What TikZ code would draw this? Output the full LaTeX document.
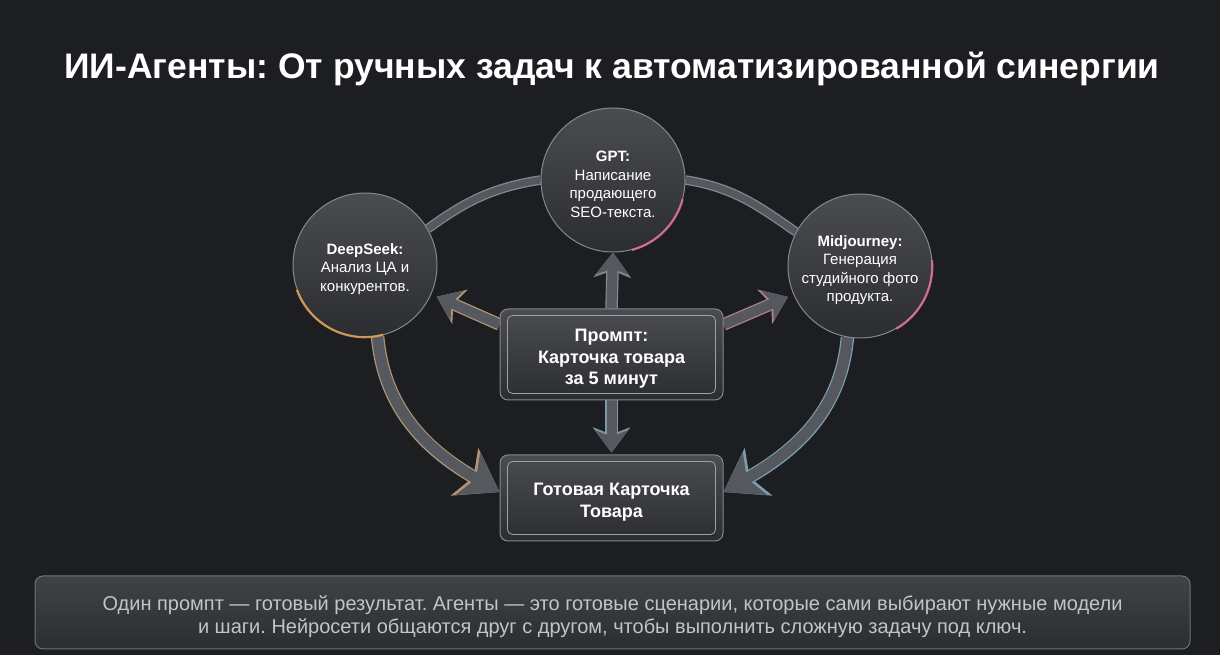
\documentclass[tikz,border=0pt]{standalone}
\usepackage{fontspec}
\setmainfont{Liberation Sans}
\usetikzlibrary{arrows.meta}
\definecolor{bg}{HTML}{1C1E22}
\definecolor{glasstop}{HTML}{4A4C51}
\definecolor{glassbot}{HTML}{2B2D31}
\definecolor{rim}{HTML}{85888E}
\definecolor{pipe}{HTML}{55585E}
\definecolor{notetext}{HTML}{C2C4C8}
\definecolor{glowor}{HTML}{E3A257}
\definecolor{glowpk}{HTML}{E27490}
\definecolor{glowbl}{HTML}{72B9D2}
\pgfdeclarelayer{back}
\pgfdeclarelayer{links}
\pgfsetlayers{back,links,main}
\frenchspacing
% extra room above the first line, pushes the text block down a little
\newcommand{\toplift}[1]{\rule{0pt}{#1}}

\begin{document}
\begin{tikzpicture}[x=1pt, y=1pt,
                agent/.style={circle, minimum size=144pt, inner sep=0pt, draw=rim, line width=1pt,
                              top color=glasstop, bottom color=glassbot, text=white, align=center,
                              font=\fontsize{15}{18.5}\selectfont},
                panel/.style={rectangle, rounded corners=8pt, minimum width=223pt, draw=rim, line width=1pt,
                              top color=glasstop, bottom color=glassbot, text=white, align=center,
                              font=\bfseries\fontsize{18}{21.5}\selectfont},
                frame/.style={draw=rim!80!white, line width=0.8pt, rounded corners=5pt},
                ring/.style={line width=7pt, draw=pipe, preaction={draw=rim, line width=9.5pt}},
                fat/.style={line width=10pt, draw=pipe, -{Stealth[length=22pt, width=32pt, inset=6pt]},
                            preaction={draw=#1, line width=12.5pt, -{Stealth[length=25pt, width=37pt, inset=7pt]}}},
                fat/.default=rim,
                bigfat/.style={line width=11pt, draw=pipe, -{Stealth[length=36pt, width=48pt, inset=9pt]},
                               preaction={draw=#1, line width=13.5pt, -{Stealth[length=40pt, width=54pt, inset=10pt]}}},
                bigfat/.default=rim,
                glow/.style={line width=2.2pt, opacity=0.85}
            ]
            \begin{pgfonlayer}{back}
            \fill[bg] (0,0) rectangle (1220,655);
            \end{pgfonlayer}

            \node[font=\bfseries\fontsize{35.5}{40}\selectfont, text=white] (title) at (612,586)
                {ИИ-Агенты: От ручных задач к автоматизированной синергии};

            \node[agent] (deepseek) at (365,390) {\toplift{19pt}\textbf{DeepSeek:}\\Анализ ЦА и\\конкурентов.};
            \node[agent] (gpt) at (613,475) {\toplift{19pt}\textbf{GPT:}\\Написание\\продающего\\SEO-текста.};
            \node[agent] (mid) at (860,389) {\toplift{19pt}\textbf{Midjourney:}\\Генерация\\студийного фото\\продукта.};

            \node[panel, minimum height=91pt] (prompt) at (611.5,300.5) {\toplift{21pt}Промпт:\\Карточка товара\\за 5 минут};
            \node[panel, minimum height=86pt] (card) at (611.5,157) {\toplift{21pt}Готовая Карточка\\Товара};

            \draw[frame] ([shift={(8pt,-7pt)}]prompt.north west) rectangle ([shift={(-8pt,7pt)}]prompt.south east);
            \draw[frame] ([shift={(8pt,-7pt)}]card.north west) rectangle ([shift={(-8pt,7pt)}]card.south east);

            \node[rectangle, rounded corners=8pt, minimum width=1155pt, minimum height=73pt, draw=rim!80!bg,
                  line width=1pt, top color=glassbot!90!white, bottom color=glassbot, text=notetext, align=center,
                  font=\fontsize{20}{23.5}\selectfont] (note) at (612.5,42.5)
                {\toplift{23pt}Один промпт — готовый результат. Агенты — это готовые сценарии, которые сами выбирают нужные модели\\
                 и шаги. Нейросети общаются друг с другом, чтобы выполнить сложную задачу под ключ.};

            \begin{pgfonlayer}{links}
            \draw[ring] (deepseek.30) to[out=36, in=189] (gpt.180);
            \draw[ring] (gpt.0) to[out=-9, in=145] (mid.152);
            \draw[bigfat=glowor!45!rim] (deepseek.-80) to[out=-85, in=150] ([yshift=6pt]card.west);
            \draw[bigfat=glowbl!45!rim] (mid.-100) to[out=-95, in=30] ([yshift=6pt]card.east);
            \draw[fat] (prompt.north) -- (gpt.south);
            \draw[fat=glowor!50!rim, shorten >=6pt] (prompt.165) -- (deepseek);
            \draw[fat=glowpk!50!rim, shorten >=6pt] (prompt.15) -- (mid);
            \draw[fat=glowbl!35!rim, shorten >=2pt] (prompt.south) -- (card.north);
            \end{pgfonlayer}

            \draw[glow, glowor] (deepseek.200) arc[start angle=200, end angle=285, radius=72pt];
            \draw[glow, glowpk] (gpt.-75) arc[start angle=-75, end angle=-15, radius=72pt];
            \draw[glow, glowpk] (mid.-60) arc[start angle=-60, end angle=5, radius=72pt];
            \end{tikzpicture}
\end{document}
